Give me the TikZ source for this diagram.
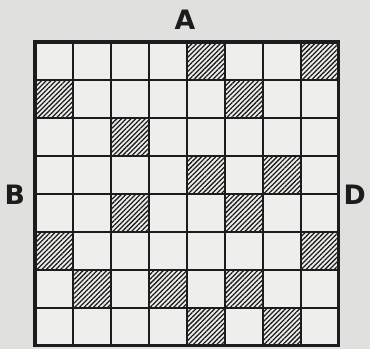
\documentclass[tikz,border=0pt]{standalone}
\usepackage{fontspec}
\setsansfont{DejaVu Sans}
\usepackage{tikz}
\usetikzlibrary{patterns.meta,positioning}
\definecolor{paperGray}{RGB}{224,224,222}
\definecolor{cellWhite}{RGB}{238,238,236}
\definecolor{ink}{RGB}{28,28,28}
\tikzset{
  hatched/.style={pattern={Lines[angle=45,distance=2.5pt,line width=0.95pt]}, pattern color=ink},
  edgeLabel/.style={ink, font=\fontsize{20}{20}\selectfont\sffamily\bfseries, inner sep=0pt}
}

\begin{document}
\begin{tikzpicture}
    \useasboundingbox (-0.92,-0.08) rectangle (8.82,9.105);
    % paper
    \fill[paperGray] (-0.92,-0.08) rectangle (8.82,9.105);
    % board
    \fill[cellWhite] (0,0) rectangle (8,8);
    % hatched squares (column/row, row 1 on top)
    \foreach \c/\r in {5/1,8/1,1/2,6/2,3/3,5/4,7/4,3/5,6/5,1/6,8/6,2/7,4/7,6/7,5/8,7/8}
      \fill[hatched] (\c-1,8-\r) rectangle (\c,9-\r);
    % grid lines
    \draw[ink, line width=1pt] (0,0) grid (8,8);
    \draw[ink, line width=2.4pt] (0,0) rectangle (8,8);
    % edge labels
    \node[edgeLabel] (lblA) at (3.95, 8.58) {A};
    \node[edgeLabel] (lblB) at (-0.53, 3.97) {B};
    \node[edgeLabel] (lblD) at (8.42, 3.97) {D};
\end{tikzpicture}
\end{document}
